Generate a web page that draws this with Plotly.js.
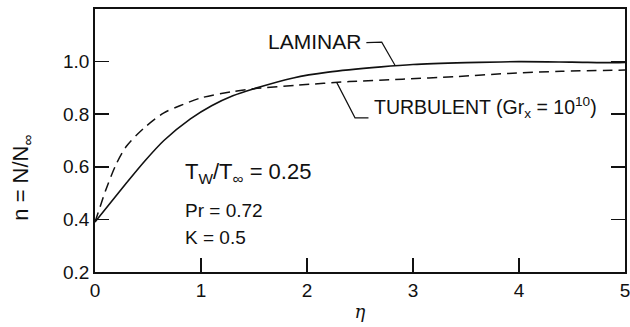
<!DOCTYPE html>
<html>
<head>
<meta charset="utf-8">
<script src="https://cdn.plot.ly/plotly-3.0.1.min.js"></script>
<style>
  html, body { margin: 0; padding: 0; background: #fff; }
  #chart { width: 630px; height: 327px; }
</style>
</head>
<body>
<div id="chart"></div>
<script>
// Similarity variable eta and normalised quantity n = N/N_inf
const etaLaminar = [0, 0.15, 0.3, 0.47, 0.65, 0.9, 1.1, 1.3, 1.5, 1.87, 2.2, 2.7, 3.0, 3.5, 4.0, 4.5, 4.9, 5.0];
const nLaminar   = [0.39, 0.465, 0.54, 0.622, 0.70, 0.782, 0.832, 0.87, 0.897, 0.938, 0.96, 0.98, 0.989, 0.996, 1.0, 0.998, 0.996, 0.997];

const etaTurbulent = [0, 0.05, 0.1, 0.2, 0.3, 0.47, 0.65, 0.8, 1.0, 1.3, 1.5, 1.9, 2.4, 2.9, 3.4, 3.9, 4.4, 5.0];
const nTurbulent   = [0.39, 0.45, 0.51, 0.61, 0.68, 0.75, 0.805, 0.832, 0.862, 0.886, 0.897, 0.91, 0.924, 0.933, 0.943, 0.955, 0.963, 0.968];

const xTicks = [0, 1, 2, 3, 4, 5];
const yTicks = [0.2, 0.4, 0.6, 0.8, 1.0];

const FONT = 'Liberation Sans, Arial, sans-serif';
const INK = '#111';

const traces = [
  {
    x: etaLaminar, y: nLaminar, type: 'scatter', mode: 'lines',
    line: { color: INK, width: 1.6, shape: 'spline', smoothing: 0.8 },
    hoverinfo: 'skip', showlegend: false
  },
  {
    x: etaTurbulent, y: nTurbulent, type: 'scatter', mode: 'lines',
    line: { color: INK, width: 1.5, dash: '10px,6px', shape: 'spline', smoothing: 0.8 },
    hoverinfo: 'skip', showlegend: false
  }
];

const layout = {
  width: 630, height: 327,
  margin: { l: 95, r: 5, t: 9, b: 55 },
  paper_bgcolor: '#fff', plot_bgcolor: '#fff',
  font: { family: FONT, color: INK, size: 19 },
  xaxis: {
    range: [0, 5], tickvals: xTicks, ticktext: xTicks.map(String),
    ticks: 'inside', ticklen: 14, tickwidth: 1.5, tickcolor: INK,
    ticklabeloverflow: 'allow',
    showline: true, linecolor: INK, linewidth: 1.8, mirror: true,
    showgrid: false, zeroline: false,
    tickfont: { family: FONT, size: 19 },
    title: { text: '<i>η</i>', font: { family: 'DejaVu Serif, serif', size: 18 }, standoff: 6 }
  },
  yaxis: {
    range: [0.2, 1.2], tickvals: yTicks, tickformat: '.1f',
    ticks: 'inside', ticklen: 14, tickwidth: 1.5, tickcolor: INK,
    showline: true, linecolor: INK, linewidth: 1.8, mirror: 'ticks',
    showgrid: false, zeroline: false,
    tickfont: { family: FONT, size: 19 }
  },
  shapes: [
    // leader from the LAMINAR label to the solid curve
    { type: 'path', xref: 'x', yref: 'y',
      path: 'M 2.56 1.072 L 2.705 1.074 L 2.83 0.986',
      line: { color: INK, width: 1.2 } },
    // leader from the TURBULENT label to the dashed curve
    { type: 'path', xref: 'x', yref: 'y',
      path: 'M 2.28 0.921 L 2.453 0.786 L 2.58 0.786',
      line: { color: INK, width: 1.2 } }
  ],
  annotations: [
    { x: 2.53, y: 1.077, xref: 'x', yref: 'y', xanchor: 'right', yanchor: 'middle',
      text: 'LAMINAR', showarrow: false, font: { size: 21 } },
    { x: 2.61, y: 0.827, xref: 'x', yref: 'y', xanchor: 'left', yanchor: 'middle',
      text: 'TURBULENT (Gr<sub>x</sub> = 10<sup>10</sup>)', showarrow: false, font: { size: 19.5 } },
    { x: 0.83, y: 0.575, xref: 'x', yref: 'y', xanchor: 'left', yanchor: 'middle',
      text: 'T<sub>W</sub>/T<sub>∞</sub> = 0.25', showarrow: false, font: { size: 22 } },
    { x: 0.83, y: 0.432, xref: 'x', yref: 'y', xanchor: 'left', yanchor: 'middle',
      text: 'Pr = 0.72', showarrow: false, font: { size: 19 } },
    { x: 0.83, y: 0.33, xref: 'x', yref: 'y', xanchor: 'left', yanchor: 'middle',
      text: 'K = 0.5', showarrow: false, font: { size: 19 } },
    { x: -0.137, y: 0.36, xref: 'paper', yref: 'paper', xanchor: 'center', yanchor: 'middle',
      textangle: -90, text: 'n = N/N<sub>∞</sub>', showarrow: false, font: { size: 22 } }
  ]
};

Plotly.newPlot('chart', traces, layout, { staticPlot: true, displayModeBar: false });
</script>
</body>
</html>
